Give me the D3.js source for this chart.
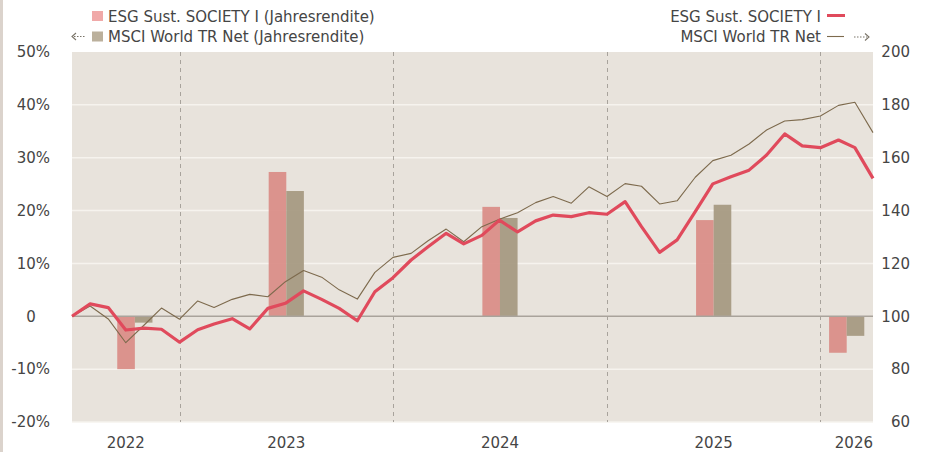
<!DOCTYPE html>
<html>
<head>
<meta charset="utf-8">
<script src="https://cdn.jsdelivr.net/npm/d3@7"></script>
<style>
  html, body { margin: 0; padding: 0; background: #ffffff; }
  svg { display: block; font-family: "DejaVu Sans", Verdana, sans-serif; }
</style>
</head>
<body>
<svg id="chart" width="925" height="452"></svg>
<script>
// ---- data ----
const monthDates = [
  "2022-07-01","2022-08-01","2022-09-01","2022-10-01","2022-11-01","2022-12-01",
  "2023-01-01","2023-02-01","2023-03-01","2023-04-01","2023-05-01","2023-06-01",
  "2023-07-01","2023-08-01","2023-09-01","2023-10-01","2023-11-01","2023-12-01",
  "2024-01-01","2024-02-01","2024-03-01","2024-04-01","2024-05-01","2024-06-01",
  "2024-07-01","2024-08-01","2024-09-01","2024-10-01","2024-11-01","2024-12-01",
  "2025-01-01","2025-02-01","2025-03-01","2025-04-01","2025-05-01","2025-06-01",
  "2025-07-01","2025-08-01","2025-09-01","2025-10-01","2025-11-01","2025-12-01",
  "2026-01-01","2026-02-01","2026-03-01","2026-04-01"
];
const esgValues = [
  100.0, 104.7, 103.3, 94.8, 95.5, 95.1,
  90.2, 94.9, 97.1, 99.1, 95.2, 103.0,
  104.9, 109.6, 106.4, 103.0, 98.3, 109.3,
  114.6, 121.3, 126.3, 131.4, 127.4, 130.6,
  136.4, 131.9, 136.1, 138.3, 137.7, 139.2,
  138.6, 143.4, 133.9, 124.2, 128.9, 139.6,
  150.1, 152.8, 155.3, 161.0, 169.0, 164.5,
  163.8, 166.7, 163.8, 152.2
];
const msciValues = [
  100.0, 103.9, 99.0, 90.0, 96.6, 103.1,
  98.9, 105.8, 103.3, 106.4, 108.3, 107.4,
  113.1, 117.3, 114.8, 110.0, 106.5, 116.6,
  122.3, 123.8, 128.6, 133.0, 128.2, 133.9,
  136.7, 139.2, 143.0, 145.3, 142.8, 149.0,
  145.3, 150.2, 149.2, 142.5, 143.7, 152.6,
  158.9, 160.9, 165.2, 170.5, 173.9, 174.4,
  175.8, 179.8, 181.0, 169.5
];
const years = [2022, 2023, 2024, 2025, 2026];
const esgAnnual = [-10.0, 27.3, 20.7, 18.2, -6.9];
const msciAnnual = [-1.2, 23.7, 18.6, 21.1, -3.7];
const leftTicks = [-20, -10, 0, 10, 20, 30, 40, 50];
const rightTicks = [60, 80, 100, 120, 140, 160, 180, 200];
const esgName = "ESG Sust. SOCIETY I";
const msciName = "MSCI World TR Net";
const annualSuffix = " (Jahresrendite)";

// ---- layout ----
const W = 925, H = 452;
const FS = 15;
const plot = { left: 72, right: 873, top: 52, bottom: 422 };
const colors = {
  bg: "#e8e3dc", grid: "#f6f3ee", zero: "#a9a39b", yearLine: "#a8a39c",
  esgLine: "#e04a5c", msciLine: "#7d6a4d",
  esgBar: "#d98c86", msciBar: "#a69a82",
  esgSwatch: "#f0a9a8", msciSwatch: "#bbb09c",
  text: "#454545", strip: "#dbd3cc", arrow: "#7a7468"
};

const parse = d3.timeParse("%Y-%m-%d");
const dates = monthDates.map(parse);

const svg = d3.select("#chart");

const x = d3.scaleTime()
  .domain(d3.extent(dates))
  .range([plot.left, plot.right]);
const yL = d3.scaleLinear().domain([-20, 50]).range([plot.bottom, plot.top]);
const yR = d3.scaleLinear().domain([60, 200]).range([plot.bottom, plot.top]);

// left strip
svg.append("rect").attr("x", 0).attr("y", 0).attr("width", 3).attr("height", H)
  .attr("fill", colors.strip);

// plot background
svg.append("rect")
  .attr("x", plot.left).attr("y", plot.top)
  .attr("width", plot.right - plot.left).attr("height", plot.bottom - plot.top)
  .attr("fill", colors.bg);

// horizontal gridlines
svg.append("g").selectAll("line")
  .data(leftTicks.filter(t => t !== 0 && t !== 50))
  .join("line")
  .attr("x1", plot.left).attr("x2", plot.right)
  .attr("y1", d => yL(d)).attr("y2", d => yL(d))
  .attr("stroke", colors.grid).attr("stroke-width", 1.5);

// year boundary dashed lines
const yearStarts = years.slice(1).map(y => new Date(y, 0, 1));
svg.append("g").selectAll("line")
  .data(yearStarts)
  .join("line")
  .attr("x1", d => Math.round(x(d)) + 0.5).attr("x2", d => Math.round(x(d)) + 0.5)
  .attr("y1", plot.top).attr("y2", plot.bottom)
  .attr("stroke", colors.yearLine).attr("stroke-width", 1)
  .attr("stroke-dasharray", "4,4");

// bars: centered in each year's return span
const first = dates[1], last = dates[dates.length - 1];
const barW = 17.6;
const barCenters = years.map(y => {
  const s = d3.max([new Date(y, 0, 1), first]);
  const e = d3.min([new Date(y + 1, 0, 1), last]);
  return (x(s) + x(e)) / 2;
});
const barG = svg.append("g");
barG.selectAll("rect.esg")
  .data(esgAnnual)
  .join("rect").attr("class", "esg")
  .attr("x", (d, i) => barCenters[i] - barW)
  .attr("width", barW)
  .attr("y", d => Math.min(yL(d), yL(0)))
  .attr("height", d => Math.abs(yL(d) - yL(0)))
  .attr("fill", colors.esgBar).attr("fill-opacity", 0.92);
barG.selectAll("rect.msci")
  .data(msciAnnual)
  .join("rect").attr("class", "msci")
  .attr("x", (d, i) => barCenters[i])
  .attr("width", barW)
  .attr("y", d => Math.min(yL(d), yL(0)))
  .attr("height", d => Math.abs(yL(d) - yL(0)))
  .attr("fill", colors.msciBar).attr("fill-opacity", 0.95);

// zero line
svg.append("line")
  .attr("x1", plot.left).attr("x2", plot.right)
  .attr("y1", yL(0)).attr("y2", yL(0))
  .attr("stroke", colors.zero).attr("stroke-width", 1.5);

// lines
const line = vals => d3.line()
  .x((d, i) => x(dates[i]))
  .y(d => yR(d))(vals);
svg.append("path").attr("d", line(msciValues))
  .attr("fill", "none").attr("stroke", colors.msciLine).attr("stroke-width", 1.1)
  .attr("stroke-linejoin", "round");
svg.append("path").attr("d", line(esgValues))
  .attr("fill", "none").attr("stroke", colors.esgLine).attr("stroke-width", 3.2)
  .attr("stroke-linejoin", "round");

// left axis
const leftAxis = d3.axisLeft(yL).tickValues(leftTicks)
  .tickFormat(d => d === 0 ? "0" : d + "%").tickSize(0).tickPadding(0);
const gL = svg.append("g").attr("transform", "translate(50,0)").call(leftAxis);
gL.select(".domain").remove();
gL.selectAll("text")
  .attr("font-size", FS).attr("fill", colors.text)
  .attr("font-family", "DejaVu Sans, Verdana, sans-serif")
  .attr("x", d => d === 0 ? -19 : 0)
  .attr("text-anchor", d => d === 0 ? "middle" : "end");

// right axis
const rightAxis = d3.axisRight(yR).tickValues(rightTicks).tickSize(0).tickPadding(0);
const gR = svg.append("g").attr("transform", "translate(910,0)").call(rightAxis);
gR.select(".domain").remove();
gR.selectAll("text")
  .attr("font-size", FS).attr("fill", colors.text)
  .attr("font-family", "DejaVu Sans, Verdana, sans-serif")
  .attr("text-anchor", "end");

// year labels
svg.append("g").selectAll("text")
  .data(years)
  .join("text")
  .attr("x", (y, i) => {
    const s = Math.max(x(new Date(y, 0, 1)), plot.left);
    const e = Math.min(x(new Date(y + 1, 0, 1)), plot.right);
    return i === years.length - 1 ? plot.right : (s + e) / 2;
  })
  .attr("text-anchor", (y, i) => i === years.length - 1 ? "end" : "middle")
  .attr("y", 447.5)
  .attr("font-size", FS).attr("fill", colors.text)
  .text(d => d);

// dotted arrow helper (dir: -1 left, +1 right)
function dottedArrow(g, x0, x1, yy, dir) {
  const tip = dir < 0 ? x0 : x1;
  g.append("line")
    .attr("x1", dir < 0 ? x0 + 2 : x0).attr("x2", dir < 0 ? x1 : x1 - 2)
    .attr("y1", yy).attr("y2", yy)
    .attr("stroke", colors.arrow).attr("stroke-width", 1.1)
    .attr("stroke-dasharray", "1.5,1.5");
  g.append("path")
    .attr("d", `M${tip - dir * 4},${yy - 3.5} L${tip},${yy} L${tip - dir * 4},${yy + 3.5}`)
    .attr("fill", "none").attr("stroke", colors.arrow).attr("stroke-width", 1.1);
}

// legend left
const legL = svg.append("g").attr("font-size", FS).attr("fill", colors.text);
legL.append("rect").attr("x", 92).attr("y", 11).attr("width", 11).attr("height", 10)
  .attr("fill", colors.esgSwatch);
legL.append("text").attr("x", 108).attr("y", 21.5).text(esgName + annualSuffix);
dottedArrow(legL, 72, 86, 36.5, -1);
legL.append("rect").attr("x", 92).attr("y", 31.5).attr("width", 11).attr("height", 10)
  .attr("fill", colors.msciSwatch);
legL.append("text").attr("x", 108).attr("y", 42).text(msciName + annualSuffix);

// legend right
const legR = svg.append("g").attr("font-size", FS).attr("fill", colors.text);
legR.append("text").attr("x", 821).attr("y", 21.5).attr("text-anchor", "end").text(esgName);
legR.append("line").attr("x1", 827).attr("x2", 845).attr("y1", 15.5).attr("y2", 15.5)
  .attr("stroke", colors.esgLine).attr("stroke-width", 3);
legR.append("text").attr("x", 821).attr("y", 42).attr("text-anchor", "end").text(msciName);
legR.append("line").attr("x1", 827).attr("x2", 844).attr("y1", 36.5).attr("y2", 36.5)
  .attr("stroke", colors.msciLine).attr("stroke-width", 1.1);
dottedArrow(legR, 854, 869, 37, 1);
</script>
</body>
</html>
